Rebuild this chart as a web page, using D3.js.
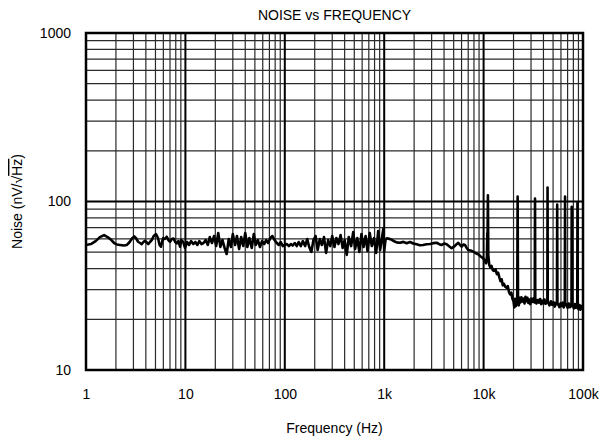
<!DOCTYPE html>
<html>
<head>
<meta charset="utf-8">
<script src="https://cdn.jsdelivr.net/npm/d3@7"></script>
<style>
  html, body { margin: 0; padding: 0; background: #fff; }
  svg text { font-family: "Liberation Sans", Arial, sans-serif; fill: #000; }
</style>
</head>
<body>
<svg id="chart" width="604" height="444"></svg>
<script>
// ---- Data ----
const titleText = "NOISE vs FREQUENCY";
const xAxisTitle = "Frequency (Hz)";
const xTickValues = [1, 10, 100, 1000, 10000, 100000];
const xTickLabels = ["1", "10", "100", "1k", "10k", "100k"];
const yTickValues = [10, 100, 1000];
const yTickLabels = ["10", "100", "1000"];

// Frequency points (Hz)
const freqHz = [
  1, 1.12, 1.25, 1.38, 1.52, 1.65, 1.8, 1.92, 2.04, 2.2, 2.4, 2.58, 2.75, 2.9, 3.06, 3.2, 3.34, 3.5, 3.63, 3.78,
  3.92, 4.08, 4.23, 4.4, 4.58, 4.8, 5.06, 5.3, 5.5, 5.68, 5.85, 5.98, 6.2, 6.48, 6.75, 7.0, 7.3, 7.6, 7.9, 8.17,
  8.5, 8.83, 9.1, 9.5, 9.9,
  10.4, 10.9, 11.4, 12, 12.6, 13.2, 13.8, 14.5, 15.2, 16, 16.8, 17.6, 18.5, 19.4, 20.4, 21.4, 22.5, 23.6, 24.8, 26,
  27.3, 28.7, 30, 31.6, 33, 34.7, 36.4, 38.2, 40, 42, 44, 46.5, 48.8, 51, 53.6, 56.3, 59, 62, 65, 68,
  71.5, 75, 79, 83, 87, 91, 95.6,
  100, 105, 110, 115, 120, 126, 132, 138, 145, 152, 160, 168, 176, 185, 194, 204, 214, 225, 236, 248,
  260, 273, 287, 300, 316, 330, 347, 364, 382, 400, 420, 440, 465, 488, 510, 536, 563, 590, 620, 650,
  680, 715, 750, 790, 830, 870, 910, 956, 980, 1000, 1030,
  1060, 1150, 1230, 1330, 1440, 1560, 1680, 1820, 1960, 2120, 2290, 2460, 2670, 2890, 3120, 3370, 3580, 3790, 4020, 4250,
  4500, 4770, 4950, 5150, 5350, 5560, 5780, 6020, 6250, 6500, 6750, 7000, 7400, 7870, 8350, 8840, 9350, 9930,
  10600, 10800, 10900, 10950, 11050, 11150, 11400, 11700, 12000, 12400, 12800, 13200, 13600, 14000, 14400, 14800,
  15200, 15600, 16000, 16500, 17000, 17500, 18000, 18500, 19000, 19500, 20000, 20400, 20800, 21200, 21600, 21800,
  22000, 22200, 22600, 23000, 23500, 24000, 24600, 25200, 25800, 26400, 27000, 27600, 28200, 28800, 29500, 30200,
  31000, 31800, 32500, 32700, 32900, 33100, 33500, 34000, 35000, 36000, 37000, 38000, 39000, 40000, 41000, 42000,
  43200, 43800, 44000, 44200, 44800, 46000, 47500, 49000, 50500, 52000, 53500, 54700, 55000, 55300, 56500, 58000,
  59500, 61000, 62500, 64000, 65600, 66000, 66400, 68000, 70000, 72000, 74000, 76600, 77000, 77400, 79000, 81000,
  83000, 85000, 87500, 88000, 88500, 90000, 92000, 94000, 96000, 98000, 100000
];

// Noise density (nV/√Hz)
const noiseNV = [
  55.2, 55.9, 58.2, 61.5, 63.2, 61.5, 59.0, 56.7, 55.6, 55.2, 54.8, 55.2, 57.5, 60.3, 62.0, 60.3, 57.7, 56.7, 55.9, 57.5,
  58.5, 57.1, 55.9, 57.5, 59.0, 62.4, 64.1, 60.7, 55.2, 53.9, 58.2, 60.7, 59.9, 61.8, 59.0, 57.7, 59.9, 60.3, 57.5, 56.5,
  58.2, 53.9, 59.0, 57.5, 53.0,
  57.5, 55.2, 58.2, 55.9, 57.5, 55.2, 58.2, 55.9, 56.7, 59.0, 55.2, 61.5, 56.7, 62.4, 54.4, 65.0, 53.7, 59.0, 53.0, 48.8,
  59.9, 53.7, 64.1, 55.2, 62.4, 52.2, 61.5, 54.4, 65.0, 53.7, 60.7, 53.0, 64.1, 55.2, 59.0, 53.7, 58.2, 55.9, 59.0, 56.7,
  60.7, 62.4, 59.0, 56.7, 55.2, 57.5, 54.4,
  55.2, 55.9, 54.4, 55.9, 54.8, 56.7, 54.4, 57.5, 54.4, 58.2, 54.4, 59.9, 53.7, 50.2, 59.0, 62.4, 51.5, 59.9, 55.2, 61.5,
  49.5, 59.0, 54.4, 62.4, 53.7, 60.7, 55.9, 63.2, 53.0, 59.0, 48.2, 61.5, 54.4, 65.9, 52.2, 60.7, 50.2, 64.1, 53.7, 62.4,
  50.8, 65.0, 54.4, 60.7, 49.5, 66.8, 51.5, 62.4, 68.7, 50.8, 59.0,
  60.5, 59.8, 58.5, 57.2, 56.9, 57.6, 56.5, 57.5, 56.3, 55.7, 55.0, 55.2, 55.8, 56.0, 56.6, 56.9, 55.8, 55.2, 56.3, 55.7,
  54.2, 52.8, 53.6, 54.5, 55.8, 56.9, 55.3, 54.0, 55.6, 55.2, 53.0, 51.6, 51.2, 50.4, 49.3, 48.6, 47.2, 46.0,
  43.0, 47.0, 65.0, 55.0, 109.0, 48.0, 42.0, 40.6, 41.5, 39.0, 38.7, 39.5, 37.0, 37.8, 35.5, 33.7,
  34.5, 31.8, 32.5, 31.2, 30.8, 31.5, 29.0, 28.1, 28.8, 26.5, 25.6, 23.5, 26.5, 24.0, 25.8, 26.0,
  107.0, 25.5, 24.2, 26.8, 25.2, 27.0, 25.5, 26.5, 24.8, 27.2, 25.6, 26.8, 25.0, 26.2, 24.6, 26.5,
  25.4, 26.6, 25.2, 26.0, 104.0, 26.5, 25.8, 24.8, 26.0, 25.1, 26.4, 24.6, 25.8, 24.9, 26.2, 24.7,
  25.5, 25.8, 121.0, 25.4, 25.0, 24.2, 25.6, 24.4, 25.3, 23.8, 25.0, 24.6, 96.0, 24.8, 24.5, 23.6,
  24.9, 24.0, 25.1, 23.5, 24.6, 107.0, 24.3, 24.6, 23.4, 24.8, 23.6, 24.2, 93.0, 24.0, 24.2, 23.2,
  24.6, 23.4, 24.0, 98.0, 23.8, 23.0, 24.3, 22.8, 24.0, 23.2, 23.6
];

// ---- Layout ----
const svg = d3.select("#chart");
const plotL = 86, plotR = 583, plotT = 33, plotB = 370;

const x = d3.scaleLog().domain([1, 100000]).range([plotL, plotR]);
const y = d3.scaleLog().domain([10, 1000]).range([plotB, plotT]);

const isMajor = v => Math.abs(Math.log10(v) - Math.round(Math.log10(v))) < 1e-9;

// Grid
const grid = svg.append("g");
const xGrid = x.ticks();
const yGrid = y.ticks();
grid.selectAll("line.vx").data(xGrid.filter(v => !isMajor(v))).enter().append("line")
  .attr("x1", d => x(d)).attr("x2", d => x(d)).attr("y1", plotT).attr("y2", plotB)
  .attr("stroke", "#2a2a2a").attr("stroke-width", 1.2);
grid.selectAll("line.hy").data(yGrid.filter(v => !isMajor(v))).enter().append("line")
  .attr("y1", d => y(d)).attr("y2", d => y(d)).attr("x1", plotL).attr("x2", plotR)
  .attr("stroke", "#2a2a2a").attr("stroke-width", 1.2);
grid.selectAll("line.vxm").data(xGrid.filter(isMajor)).enter().append("line")
  .attr("x1", d => x(d)).attr("x2", d => x(d)).attr("y1", plotT).attr("y2", plotB)
  .attr("stroke", "#000").attr("stroke-width", 2);
grid.selectAll("line.hym").data(yGrid.filter(isMajor)).enter().append("line")
  .attr("y1", d => y(d)).attr("y2", d => y(d)).attr("x1", plotL).attr("x2", plotR)
  .attr("stroke", "#000").attr("stroke-width", 2);

// Frame
svg.append("rect").attr("x", plotL).attr("y", plotT)
  .attr("width", plotR - plotL).attr("height", plotB - plotT)
  .attr("fill", "none").attr("stroke", "#000").attr("stroke-width", 2.5);

// Data line
svg.append("clipPath").attr("id", "clip").append("rect")
  .attr("x", plotL).attr("y", plotT).attr("width", plotR - plotL).attr("height", plotB - plotT);
const pts = freqHz.map((f, i) => ({ f: f, v: noiseNV[i] }));
const line = d3.line().x(d => x(d.f)).y(d => y(d.v));
svg.append("path").datum(pts)
  .attr("clip-path", "url(#clip)")
  .attr("d", line)
  .attr("fill", "none").attr("stroke", "#000")
  .attr("stroke-width", 2.6).attr("stroke-linejoin", "round");

// Axes (labels only)
const xAxis = d3.axisBottom(x).tickValues(xTickValues)
  .tickFormat((d, i) => xTickLabels[i]).tickSizeInner(0).tickSizeOuter(0).tickPadding(19);
const gx = svg.append("g").attr("transform", `translate(0,${plotB})`).call(xAxis);
gx.select(".domain").remove();
gx.selectAll("text").attr("font-size", 14).attr("font-family", "Liberation Sans, Arial, sans-serif").attr("fill", "#000");

const yAxis = d3.axisLeft(y).tickValues(yTickValues)
  .tickFormat((d, i) => yTickLabels[i]).tickSizeInner(0).tickSizeOuter(0).tickPadding(15);
const gy = svg.append("g").attr("transform", `translate(${plotL},0)`).call(yAxis);
gy.select(".domain").remove();
gy.selectAll("text").attr("font-size", 14).attr("font-family", "Liberation Sans, Arial, sans-serif").attr("fill", "#000");

// Titles
svg.append("text").attr("x", (plotL + plotR) / 2).attr("y", 20)
  .attr("text-anchor", "middle").attr("font-size", 14).text(titleText);
svg.append("text").attr("x", (plotL + plotR) / 2).attr("y", 433)
  .attr("text-anchor", "middle").attr("font-size", 14).text(xAxisTitle);

const yt = svg.append("text")
  .attr("transform", `translate(22,${(plotT + plotB) / 2}) rotate(-90)`)
  .attr("text-anchor", "middle").attr("font-size", 14);
yt.append("tspan").text("Noise (nV/\u221A");
yt.append("tspan").attr("text-decoration", "overline").text("Hz");
yt.append("tspan").text(")");
</script>
</body>
</html>
